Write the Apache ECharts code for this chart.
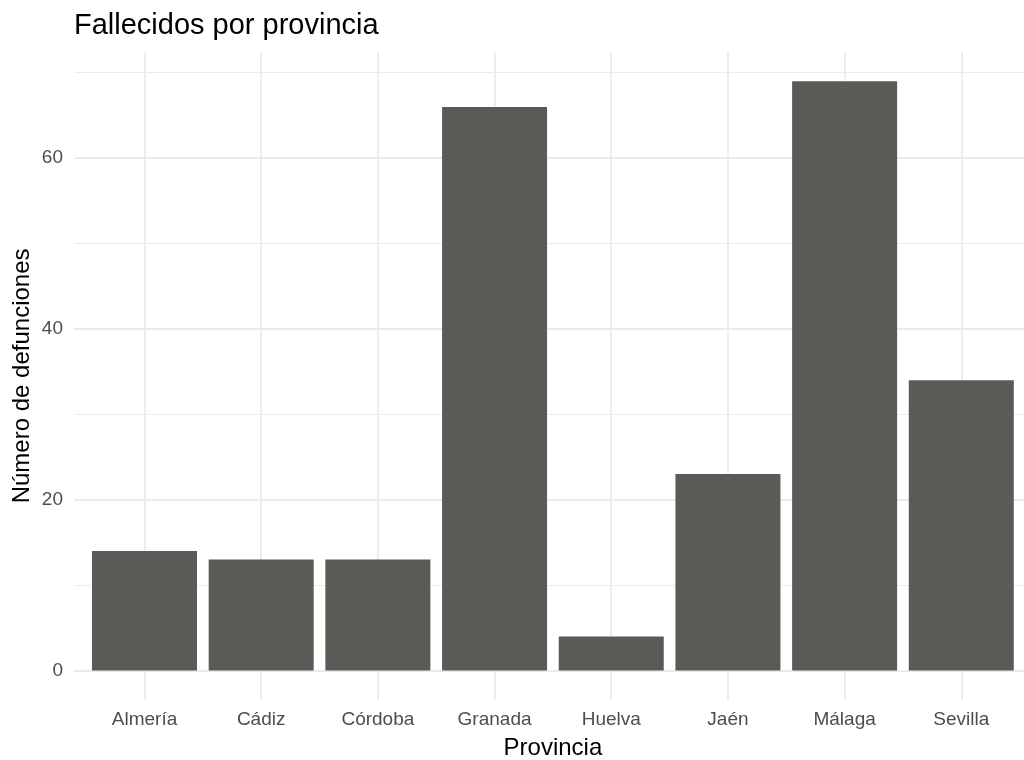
<!DOCTYPE html>
<html>
<head>
<meta charset="utf-8">
<script src="https://cdn.jsdelivr.net/npm/echarts@6/dist/echarts.min.js"></script>
<style>
  html, body { margin: 0; padding: 0; background: #ffffff; }
  #chart { width: 1024px; height: 760px; }
</style>
</head>
<body>
<div id="chart"></div>
<script>
const chartTitle = 'Fallecidos por provincia';
const xTitle = 'Provincia';
const yTitle = 'Número de defunciones';
const categories = ['Almería', 'Cádiz', 'Córdoba', 'Granada', 'Huelva', 'Jaén', 'Málaga', 'Sevilla'];
const deaths = [14, 13, 13, 66, 4, 23, 69, 34];

const FONT = "'Liberation Sans', Arial, sans-serif";
const GRID_COLOR = '#ebebeb';

const chart = echarts.init(document.getElementById('chart'), null, { renderer: 'canvas' });
chart.setOption({
  animation: false,
  backgroundColor: '#ffffff',
  textStyle: { fontFamily: FONT },
  title: {
    text: chartTitle,
    left: 74,
    top: 11,
    padding: 0,
    textStyle: { fontFamily: FONT, fontSize: 29, fontWeight: 'normal', color: '#000000' }
  },
  grid: [
    { left: 74.5, width: 957, top: 72.7, bottom: 89.5, outerBoundsMode: 'none', containLabel: false },
    { left: 74.5, width: 957, top: 158.1, bottom: 89.5, outerBoundsMode: 'none', containLabel: false },
    { left: 144.5, width: 816.8, top: 51.8, bottom: 60, outerBoundsMode: 'none', containLabel: false }
  ],
  xAxis: [
    { gridIndex: 0, type: 'value', min: 0, max: 1, show: false },
    { gridIndex: 1, type: 'value', min: 0, max: 1, show: false },
    {
      gridIndex: 2, type: 'category', data: categories, boundaryGap: false,
      axisLine: { show: false }, axisTick: { show: false },
      splitLine: { show: true, interval: 0, lineStyle: { color: GRID_COLOR, width: 1.8 } },
      axisLabel: { interval: 0, color: '#4d4d4d', fontSize: 19, margin: 10, fontFamily: FONT },
      name: xTitle, nameLocation: 'middle', nameGap: 36,
      nameTextStyle: { fontSize: 24, color: '#000000', fontFamily: FONT }
    }
  ],
  yAxis: [
    {
      gridIndex: 0, type: 'value', min: 0, max: 70, interval: 10,
      axisLabel: { show: false }, axisLine: { show: false }, axisTick: { show: false },
      splitLine: { show: true, lineStyle: { color: GRID_COLOR, width: 1 } }
    },
    {
      gridIndex: 1, type: 'value', min: 0, max: 60, interval: 20,
      axisLine: { show: false }, axisTick: { show: false },
      axisLabel: { color: '#4d4d4d', fontSize: 19, margin: 11.5, fontFamily: FONT },
      splitLine: { show: true, lineStyle: { color: GRID_COLOR, width: 1.8 } }
    },
    {
      gridIndex: 2, type: 'value', min: -3.45, max: 72.45,
      axisLabel: { show: false }, axisLine: { show: false }, axisTick: { show: false },
      splitLine: { show: false },
      name: yTitle, nameLocation: 'middle', nameGap: 110, nameRotate: 90,
      nameTextStyle: { fontSize: 24, color: '#000000', fontFamily: FONT }
    }
  ],
  series: [
    {
      type: 'bar',
      xAxisIndex: 2,
      yAxisIndex: 2,
      data: deaths,
      barWidth: 105,
      clip: false,
      itemStyle: { color: '#5a5a56' }
    }
  ]
});
</script>
</body>
</html>
